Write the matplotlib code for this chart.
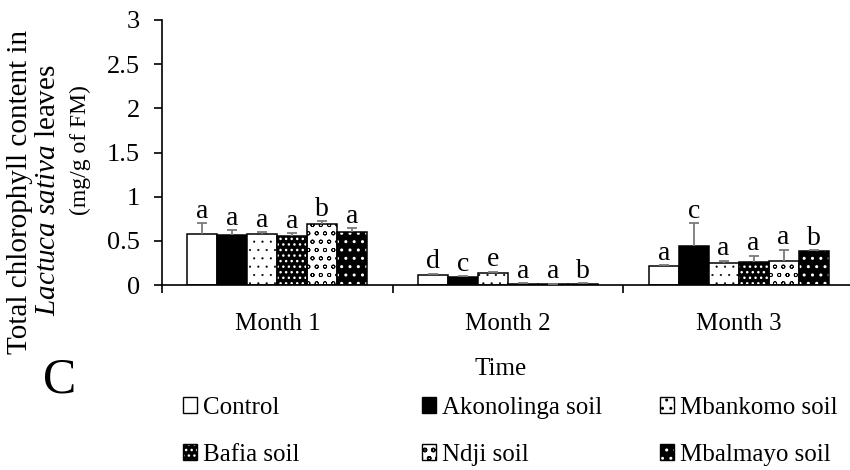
import numpy as np
import matplotlib
matplotlib.use('Agg')
import matplotlib.pyplot as plt
from matplotlib.patches import Patch
from matplotlib.legend_handler import HandlerTuple

plt.rcParams['font.family'] = ['Liberation Serif', 'DejaVu Serif']
plt.rcParams['mathtext.fontset'] = 'custom'
plt.rcParams['mathtext.rm'] = 'Liberation Serif'
plt.rcParams['mathtext.it'] = 'Liberation Serif:italic'

# chlorophyll (mg/g FM), one list per soil treatment, one value per month
months = ['Month 1', 'Month 2', 'Month 3']
treatments = ['Control', 'Akonolinga soil', 'Mbankomo soil',
              'Bafia soil', 'Ndji soil', 'Mbalmayo soil']

control = [0.58, 0.11, 0.22]
akonolinga = [0.57, 0.09, 0.44]
mbankomo = [0.58, 0.14, 0.245]
bafia = [0.55, 0.015, 0.26]
ndji = [0.69, 0.01, 0.275]
mbalmayo = [0.60, 0.015, 0.385]

control_err = [0.12, 0.02, 0.005]
akonolinga_err = [0.05, 0.01, 0.26]
mbankomo_err = [0.015, 0.01, 0.03]
bafia_err = [0.035, 0.005, 0.07]
ndji_err = [0.03, 0.005, 0.125]
mbalmayo_err = [0.04, 0.005, 0.008]

control_sig = ['a', 'd', 'a']
akonolinga_sig = ['a', 'c', 'c']
mbankomo_sig = ['a', 'e', 'a']
bafia_sig = ['a', 'a', 'a']
ndji_sig = ['b', 'a', 'a']
mbalmayo_sig = ['a', 'b', 'b']

series = [control, akonolinga, mbankomo, bafia, ndji, mbalmayo]
errors = [control_err, akonolinga_err, mbankomo_err, bafia_err, ndji_err, mbalmayo_err]
letters = [control_sig, akonolinga_sig, mbankomo_sig, bafia_sig, ndji_sig, mbalmayo_sig]

# (fill colour, hatch, hatch colour, hatch line width) for each treatment
styles = [
    ('white', None, 'black', 1.0),
    ('black', None, 'black', 1.0),
    ('white', '..', 'black', 0.3),
    ('black', '...', 'white', 1.0),
    ('white', 'oo', 'black', 0.6),
    ('black', '..', 'white', 1.0),
]

W, H = 850, 470
fig = plt.figure(figsize=(W / 100, H / 100), dpi=100)
ax = fig.add_axes([162 / W, 1 - 285 / H, 692 / W, 265 / H])

x = np.arange(len(months))
width = 0.13
err_color = '#7a7a7a'

handles = []
for j, (vals, errs, sig, (fc, hatch, hc, hlw)) in enumerate(zip(series, errors, letters, styles)):
    pos = x + (j - 2.5) * width
    with plt.rc_context({'hatch.linewidth': hlw}):
        if hc == 'white':
            ax.bar(pos, vals, width, color=fc, edgecolor='white', hatch=hatch, linewidth=0, zorder=2)
            ax.bar(pos, vals, width, color='none', edgecolor='black', linewidth=1.1, zorder=3)
            h = (Patch(facecolor=fc, edgecolor='white', hatch=hatch, linewidth=0),
                 Patch(facecolor='none', edgecolor='black', linewidth=1.0))
        else:
            ax.bar(pos, vals, width, color=fc, edgecolor='black', hatch=hatch, linewidth=1.1, zorder=2)
            h = Patch(facecolor=fc, edgecolor='black', hatch=hatch, linewidth=1.0)
    handles.append(h)

    eb = ax.errorbar(pos, vals, yerr=[np.zeros(len(vals)), errs], fmt='none',
                     ecolor=err_color, elinewidth=1.3, capsize=3.5, capthick=1.3, zorder=4)
    caps = eb.lines[1]
    if len(caps) == 2:
        caps[0].set_visible(False)

    for p, v, e, s in zip(pos, vals, errs, sig):
        ax.annotate(s, (p, v + e), xytext=(0, 4), textcoords='offset points',
                    ha='center', va='baseline', fontsize=20)

ax.set_ylim(0, 3)
ax.set_yticks(np.arange(0, 3.01, 0.5))
ax.set_yticklabels(['0', '0.5', '1', '1.5', '2', '2.5', '3'])
ax.set_xlim(-0.5, len(months) - 0.5)
ax.set_xticks(x)
ax.set_xticklabels(months)
ax.set_xticks(np.arange(-0.5, len(months)), minor=True)

ax.tick_params(axis='y', direction='out', length=6, width=1.2, labelsize=19, pad=10)
ax.tick_params(axis='x', which='major', length=0, labelsize=18, pad=20)
ax.tick_params(axis='x', which='minor', direction='out', length=6, width=1.2)
for side in ['top', 'right']:
    ax.spines[side].set_visible(False)
for side in ['left', 'bottom']:
    ax.spines[side].set_linewidth(1.2)

ax.set_xlabel('Time', fontsize=18)
ax.xaxis.set_label_coords(0.49, -0.275)
ax.xaxis.label.set_va('top')

# three-line y label, middle line with the species name in italics
fig.text(20 / W, 1 - 192 / H, 'Total chlorophyll content in', rotation=90,
         ha='center', va='center', fontsize=21)
fig.text(48 / W, 1 - 190 / H, r'$\mathit{Lactuca\ sativa}$ leaves', rotation=90,
         ha='center', va='center', fontsize=21)
fig.text(80 / W, 1 - 150 / H, '(mg/g of FM)', rotation=90,
         ha='center', va='center', fontsize=17)

fig.text(43 / W, 1 - 380 / H, 'C', ha='left', va='center', fontsize=36)

# legend laid out as three columns of two entries
col_x = [183, 422, 660]
for c in range(3):
    idx = [c, c + 3]
    fig.legend([handles[i] for i in idx], [treatments[i] for i in idx],
               loc='upper left', bbox_to_anchor=(col_x[c] / W, 1 - 397 / H),
               frameon=False, fontsize=18, borderpad=0, borderaxespad=0,
               handlelength=0.56, handleheight=0.6, handletextpad=0.25,
               labelspacing=1.0, handler_map={tuple: HandlerTuple(ndivide=1)})

fig.savefig('out.png', dpi=100)
